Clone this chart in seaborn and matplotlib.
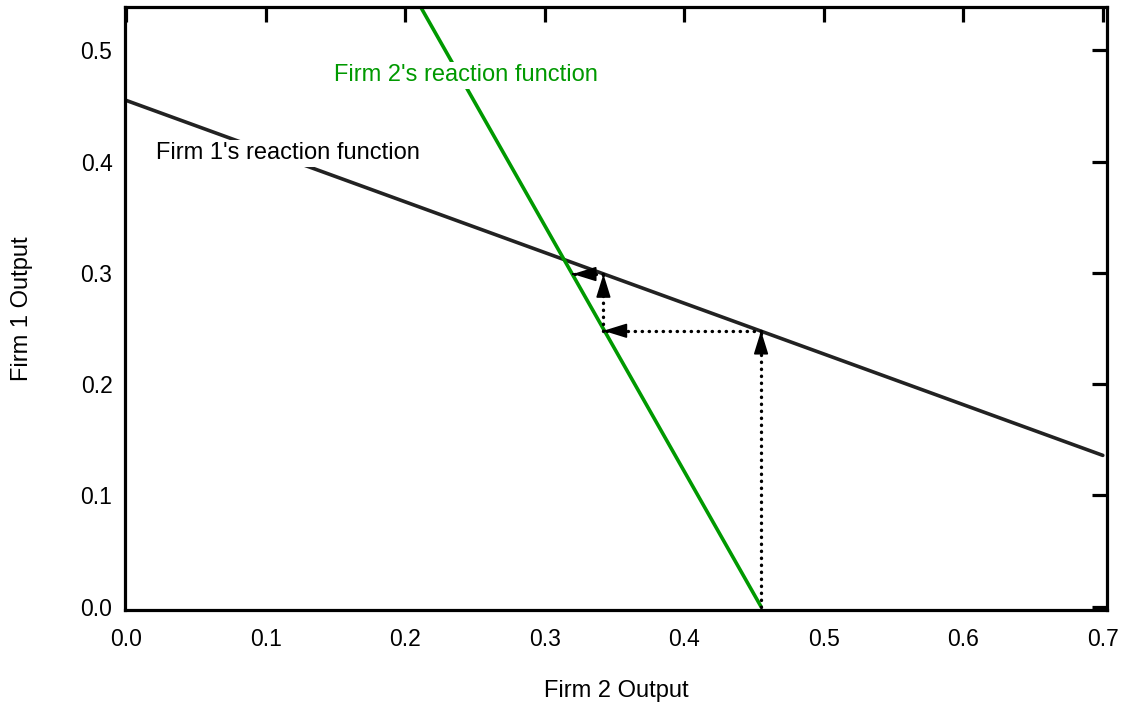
import matplotlib
matplotlib.use('Agg')
import matplotlib.pyplot as plt
import seaborn as sns
import pandas as pd

# reaction functions (end points)
firm1_x = [0.0, 0.7]
firm1_y = [0.455, 0.136]
firm2_x = [0.211, 0.455]
firm2_y = [0.539, 0.0]

# adjustment path (dotted arrows)
path_x = [0.455, 0.455, 0.342, 0.342, 0.320]
path_y = [0.0, 0.248, 0.248, 0.299, 0.299]

x_ticks = [0.0, 0.1, 0.2, 0.3, 0.4, 0.5, 0.6, 0.7]
y_ticks = [0.0, 0.1, 0.2, 0.3, 0.4, 0.5]

sns.set_style('white')
plt.rcParams['font.family'] = ['Liberation Sans', 'DejaVu Sans']
plt.rcParams['text.color'] = 'black'
plt.rcParams['axes.labelcolor'] = 'black'
plt.rcParams['xtick.color'] = 'black'
plt.rcParams['ytick.color'] = 'black'

fig = plt.figure(figsize=(11.21, 7.04), dpi=100)
ax = fig.add_axes([0.1115, 0.1335, 0.876, 0.8565])

df1 = pd.DataFrame({'x': firm1_x, 'y': firm1_y})
df2 = pd.DataFrame({'x': firm2_x, 'y': firm2_y})
sns.lineplot(data=df1, x='x', y='y', color='#222222', lw=2.6, ax=ax)
sns.lineplot(data=df2, x='x', y='y', color='#009900', lw=2.6, ax=ax)

# dotted segments with arrow heads
for i in range(len(path_x) - 1):
    x0, y0, x1, y1 = path_x[i], path_y[i], path_x[i + 1], path_y[i + 1]
    ax.plot([x0, x1], [y0, y1], color='black', lw=2.4,
            linestyle=(0, (0.1, 2.0)), dash_capstyle='round', zorder=3)
    ax.annotate('', xy=(x1, y1), xytext=(x0 + (x1 - x0) * 0.99, y0 + (y1 - y0) * 0.99),
                arrowprops=dict(arrowstyle='-|>,head_length=1.45,head_width=0.45',
                                color='black', lw=1.2, shrinkA=0, shrinkB=0),
                zorder=4)

ax.text(0.021, 0.4075, "Firm 1's reaction function", fontsize=17, color='black',
        va='center', ha='left', zorder=5,
        bbox=dict(facecolor='white', edgecolor='none', pad=2))
ax.text(0.149, 0.4775, "Firm 2's reaction function", fontsize=17, color='#009900',
        va='center', ha='left', zorder=5,
        bbox=dict(facecolor='white', edgecolor='none', pad=2))

ax.set_xlim(-0.001, 0.703)
ax.set_ylim(-0.003, 0.539)
ax.set_xticks(x_ticks)
ax.set_yticks(y_ticks)
ax.set_xticklabels([f'{t:.1f}' for t in x_ticks])
ax.set_yticklabels([f'{t:.1f}' for t in y_ticks])
ax.tick_params(direction='in', length=11, width=2.3, top=True, right=True,
               labelsize=16.5, colors='black')
ax.tick_params(axis='x', pad=13)
ax.tick_params(axis='y', pad=9)
for s in ax.spines.values():
    s.set_linewidth(2.3)
    s.set_color('black')

ax.set_xlabel('Firm 2 Output', fontsize=17, labelpad=21)
ax.set_ylabel('Firm 1 Output', fontsize=17, labelpad=34)

fig.savefig('out.png', dpi=100)
